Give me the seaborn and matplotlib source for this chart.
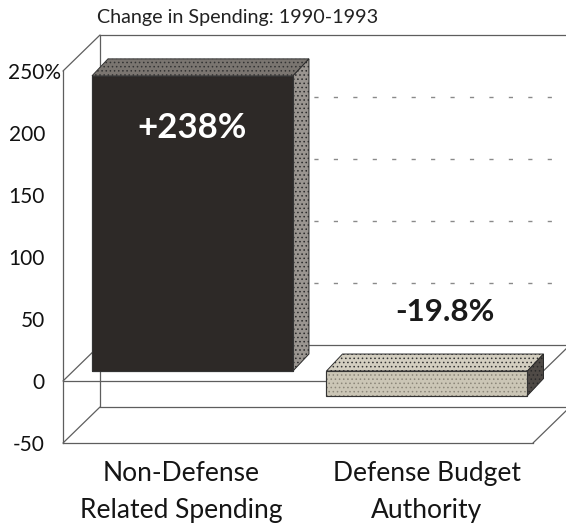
import matplotlib
matplotlib.use("Agg")
import matplotlib.pyplot as plt
import matplotlib.transforms as mtransforms
from matplotlib.patches import Polygon
from matplotlib.lines import Line2D
import seaborn as sns
import pandas as pd

# ---- data ----
categories = ["Non-Defense\nRelated Spending", "Defense Budget\nAuthority"]
changes = [238.0, -19.8]
value_labels = ["+238%", "-19.8%"]
yticks = [-50, 0, 50, 100, 150, 200, 250]
ytick_labels = ["-50", "0", "50", "100", "150", "200", "250%"]
grid_levels = [50, 100, 150, 200]
title = "Change in Spending: 1990-1993"

# ---- style ----
sns.set_style("white")
plt.rcParams["font.family"] = ["Lato", "DejaVu Sans"]
plt.rcParams["hatch.linewidth"] = 0.6

W, H, DPI = 566, 523, 100
fig = plt.figure(figsize=(W / DPI, H / DPI), dpi=DPI)
ax = fig.add_axes([63 / W, (H - 443) / H, (533 - 63) / W, (443 - 71) / H])

front_colors = ["#2d2927", "#cbc6b6"]
top_colors = ["#7a7570", "#d3cec0"]
side_colors = ["#9a9590", "#4f4a46"]
line_c = "#5e5e5e"

df = pd.DataFrame({"category": categories, "change": changes})
sns.barplot(data=df, x="category", y="change", hue="category",
            palette=front_colors, width=0.857, saturation=1, legend=False,
            edgecolor="#222222", linewidth=0.8, ax=ax, zorder=3)

ax.set_xlim(-0.552, 1.452)
ax.set_ylim(-50, 250)
ax.set_autoscale_on(False)

ident = mtransforms.IdentityTransform()
back_shift = mtransforms.ScaledTranslation(37 / DPI, 36 / DPI, fig.dpi_scale_trans)
bar_shift = mtransforms.ScaledTranslation(0, 10 / DPI, fig.dpi_scale_trans)
t_back = ax.transData + back_shift
t_bar = ax.transData + bar_shift
DX, DY = 16, 17

xmin, xmax = ax.get_xlim()
ymin, ymax = ax.get_ylim()

# back wall lines
kw = dict(color=line_c, lw=0.9, clip_on=False, zorder=1)
ax.plot([xmin, xmin], [ymin, ymax], transform=t_back, **kw)
ax.plot([xmin, xmax + 0.2], [ymax, ymax], transform=t_back, **kw)
ax.plot([xmin, xmax + 0.2], [0, 0], transform=t_back, **kw)
ax.plot([xmin, xmax + 0.2], [ymin, ymin], transform=t_back, **kw)
for g in grid_levels:
    ax.plot([xmin, xmax + 0.2], [g, g], transform=t_back, color="#8a8a8a",
            lw=1.0, ls=(0, (3, 11)), clip_on=False, zorder=1)

# front lines
ax.axhline(0, color=line_c, lw=0.9, zorder=1.5)
# diagonals connecting front and back planes
for (x, y) in [(xmin, ymax), (xmin, 0), (xmin, ymin), (xmax, 0), (xmax, ymin)]:
    p0 = ax.transData.transform((x, y))
    p1 = t_back.transform((x, y))
    ax.add_line(Line2D([p0[0], p1[0]], [p0[1], p1[1]], transform=ident,
                       color=line_c, lw=0.9, clip_on=False, zorder=1.2))

# bars: shift and add depth faces
hatches = [None, "...."]
for p, tc, sc, hz in zip(ax.patches, top_colors, side_colors, hatches):
    p.set_transform(t_bar)
    p.set_clip_on(False)
    if hz:
        p.set_hatch(hz)
        p.set_edgecolor("#8c877a")
    x0, w = p.get_x(), p.get_width()
    y0, h = p.get_y(), p.get_height()
    ylo, yhi = min(y0, y0 + h), max(y0, y0 + h)
    a0, blo = t_bar.transform((x0, ylo))
    a1, bhi = t_bar.transform((x0 + w, yhi))
    top = Polygon([(a0, bhi), (a1, bhi), (a1 + DX, bhi + DY), (a0 + DX, bhi + DY)],
                  closed=True, transform=ident, facecolor=tc, edgecolor="#333333",
                  hatch="....", lw=0.7, clip_on=False, zorder=3)
    side = Polygon([(a1, blo), (a1 + DX, blo + DY), (a1 + DX, bhi + DY), (a1, bhi)],
                   closed=True, transform=ident, facecolor=sc, edgecolor="#2a2a2a",
                   hatch="....", lw=0.7, clip_on=False, zorder=3)
    ax.add_patch(top)
    ax.add_patch(side)
    # crisp outline for the hatched front face
    outline = Polygon([(a0, blo), (a1, blo), (a1, bhi), (a0, bhi)], closed=True,
                      transform=ident, fill=False, edgecolor="#333333", lw=0.8,
                      clip_on=False, zorder=3.1)
    ax.add_patch(outline)

# value labels
ax.text(0, changes[0] - 42, value_labels[0], transform=t_bar, ha="center",
        va="center", color="white", fontsize=25, fontweight="bold", zorder=5)
ax.text(1.077, 56, value_labels[1], ha="center", va="center", color="#1a1a1a",
        fontsize=22.5, fontweight="bold", zorder=5)

# axes styling
for s in ["top", "right"]:
    ax.spines[s].set_visible(False)
for s in ["left", "bottom"]:
    ax.spines[s].set_color(line_c)
    ax.spines[s].set_linewidth(0.9)
ax.set_yticks(yticks)
ax.set_yticklabels(ytick_labels, fontsize=15, color="#111111")
ax.tick_params(axis="y", length=0, pad=13)
ax.tick_params(axis="x", length=0, pad=13)
ax.set_xticks(range(len(categories)))
ax.set_xticklabels(categories, fontsize=19, color="#151515", linespacing=1.62)
ax.set_xlabel("")
ax.set_ylabel("")

# let the "%" of the top tick label hang past the column of numbers
for lab in ax.get_yticklabels():
    if lab.get_text().endswith("%"):
        lab.set_transform(lab.get_transform() +
                          mtransforms.ScaledTranslation(16 / DPI, 0, fig.dpi_scale_trans))
xl = ax.get_xticklabels()
xl[0].set_transform(xl[0].get_transform() +
                    mtransforms.ScaledTranslation(-11 / DPI, 0, fig.dpi_scale_trans))

fig.text(97 / W, 1 - 17 / H, title, ha="left", va="center", fontsize=14.2,
         color="#222222")

fig.savefig("out.png", dpi=DPI)
